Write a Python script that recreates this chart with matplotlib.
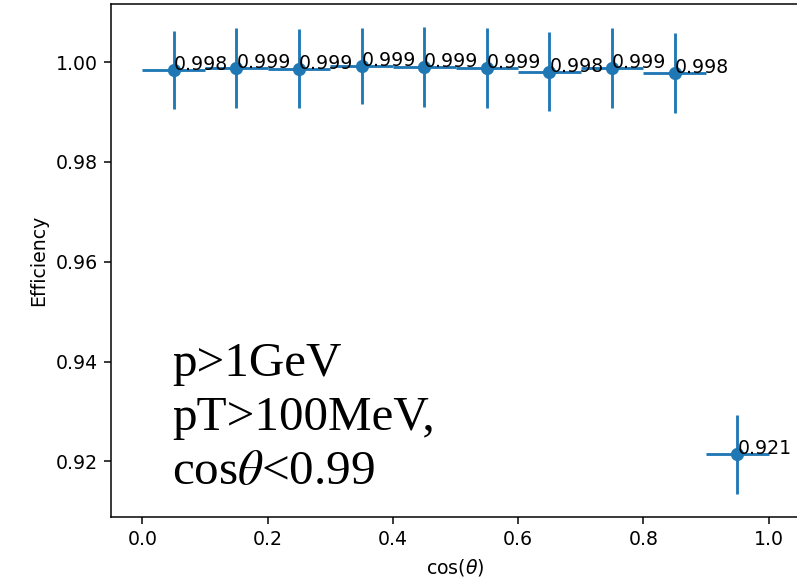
import matplotlib
matplotlib.use('Agg')
from matplotlib import pyplot as plt

# efficiency vs cos(theta) bins
cos_theta = [0.05, 0.15, 0.25, 0.35, 0.45, 0.55, 0.65, 0.75, 0.85, 0.95]
bin_half_width = [0.05] * 10
efficiency = [0.9984, 0.9988, 0.9987, 0.9993, 0.9990, 0.9988, 0.9981, 0.9988, 0.9978, 0.9214]
eff_err = [0.0078, 0.0080, 0.0079, 0.0076, 0.0080, 0.0080, 0.0079, 0.0080, 0.0080, 0.0079]

cuts = 'p>1GeV\npT>100MeV,\ncos$\\theta$<0.99'

dpi = 136
fig = plt.figure(figsize=(797 / dpi, 580 / dpi), dpi=dpi)
ax = fig.add_axes([111 / 797, 1 - 517 / 580, 689 / 797, 513 / 580])

ax.errorbar(cos_theta, efficiency, xerr=bin_half_width, yerr=eff_err, fmt='o')
for x, y in zip(cos_theta, efficiency):
    ax.text(x, y, '{:.3f}'.format(y))

ax.set_xlabel('cos($\\theta$)')
ax.set_ylabel('Efficiency')

# selection cuts; baseline of the last line
fig.text(172 / 797, 1 - 484 / 580, cuts, family='Liberation Serif',
         math_fontfamily='stix', fontsize=26, linespacing=1.3,
         va='baseline', ha='left')

fig.savefig('out.png', dpi=dpi)
